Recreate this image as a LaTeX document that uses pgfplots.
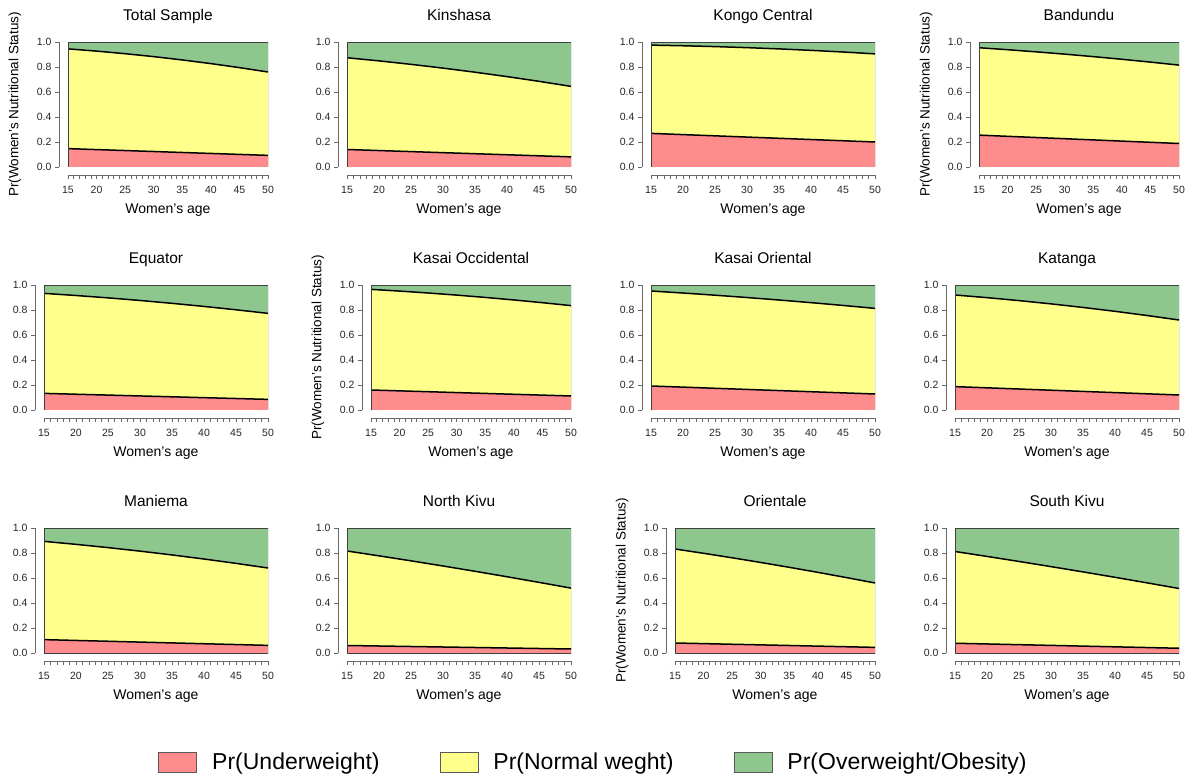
\documentclass[border=0pt]{standalone}
\usepackage{fontspec}
\setmainfont{Liberation Sans}
\usepackage{pgfplots}
\pgfplotsset{compat=1.18}
\usepackage{pgfplotstable}

\definecolor{redc}{RGB}{255,140,140}
\definecolor{yelc}{RGB}{255,255,140}
\definecolor{grnc}{RGB}{141,199,141}
\definecolor{axc}{RGB}{105,105,105}

% x = age, lo = Pr(Underweight), up = Pr(Underweight)+Pr(Normal weight)
\pgfplotstableread{
x lo up
15 0.147 0.945
20 0.1393 0.9271
25 0.1316 0.9064
30 0.1239 0.8829
35 0.1161 0.8564
40 0.1084 0.8271
45 0.1007 0.7950
50 0.093 0.760
}\tTotal
\pgfplotstableread{
x lo up
15 0.140 0.874
20 0.1316 0.8489
25 0.1231 0.8212
30 0.1147 0.7910
35 0.1063 0.7583
40 0.0979 0.7231
45 0.0894 0.6853
50 0.081 0.645
}\tKinshasa
\pgfplotstableread{
x lo up
15 0.269 0.975
20 0.2591 0.9699
25 0.2493 0.9632
30 0.2394 0.9548
35 0.2296 0.9448
40 0.2197 0.9332
45 0.2099 0.9199
50 0.200 0.905
}\tKongo
\pgfplotstableread{
x lo up
15 0.255 0.954
20 0.2454 0.9383
25 0.2359 0.9212
30 0.2263 0.9028
35 0.2167 0.8829
40 0.2071 0.8617
45 0.1976 0.8390
50 0.188 0.815
}\tBandundu
\pgfplotstableread{
x lo up
15 0.133 0.933
20 0.1261 0.9160
25 0.1193 0.8971
30 0.1124 0.8762
35 0.1056 0.8533
40 0.0987 0.8285
45 0.0919 0.8017
50 0.085 0.773
}\tEquator
\pgfplotstableread{
x lo up
15 0.160 0.965
20 0.1531 0.9513
25 0.1463 0.9360
30 0.1394 0.9191
35 0.1326 0.9005
40 0.1257 0.8803
45 0.1189 0.8585
50 0.112 0.835
}\tKasaiOcc
\pgfplotstableread{
x lo up
15 0.192 0.952
20 0.1829 0.9358
25 0.1737 0.9184
30 0.1646 0.8998
35 0.1554 0.8799
40 0.1463 0.8588
45 0.1371 0.8365
50 0.128 0.813
}\tKasaiOr
\pgfplotstableread{
x lo up
15 0.187 0.920
20 0.1774 0.8988
25 0.1679 0.8751
30 0.1583 0.8490
35 0.1487 0.8204
40 0.1391 0.7894
45 0.1296 0.7559
50 0.120 0.720
}\tKatanga
\pgfplotstableread{
x lo up
15 0.107 0.893
20 0.1004 0.8692
25 0.0939 0.8432
30 0.0873 0.8149
35 0.0807 0.7845
40 0.0741 0.7519
45 0.0676 0.7170
50 0.061 0.680
}\tManiema
\pgfplotstableread{
x lo up
15 0.060 0.816
20 0.056 0.7772
25 0.052 0.7373
30 0.048 0.6961
35 0.044 0.6536
40 0.040 0.6100
45 0.036 0.5651
50 0.032 0.519
}\tNorthKivu
\pgfplotstableread{
x lo up
15 0.080 0.832
20 0.075 0.7976
25 0.070 0.7616
30 0.065 0.7243
35 0.060 0.6854
40 0.055 0.6451
45 0.050 0.6033
50 0.045 0.560
}\tOrientale
\pgfplotstableread{
x lo up
15 0.078 0.812
20 0.0723 0.7727
25 0.0666 0.7323
30 0.0609 0.6910
35 0.0551 0.6488
40 0.0494 0.6055
45 0.0437 0.5612
50 0.038 0.516
}\tSouthKivu

\pgfplotsset{
 rpanel/.style={
  scale only axis, height=125pt,
  xmin=15, xmax=50, ymin=0, ymax=1,
  axis x line*=bottom, axis y line*=left,
  axis x line shift=8pt, axis y line shift=9pt,
  axis line style={axc, line width=0.6pt, -},
  tick style={axc, line width=0.6pt},
  xtick={15,20,...,50}, minor x tick num=4,
  ytick={0,0.2,0.4,0.6,0.8,1},
  tick align=outside, major tick length=4pt, minor tick length=4pt,
  tick label style={font=\fontsize{10.5}{12}\selectfont, text=black!85},
  xticklabel style={yshift=-4pt},
  /pgf/number format/assume math mode=true,
  yticklabel style={/pgf/number format/.cd, fixed, fixed zerofill, precision=1},
  title style={at={(axis description cs:0.5,1.124)}, anchor=base, font=\fontsize{15.5}{18}\selectfont},
  xlabel={Women's age},
  xlabel style={at={(axis description cs:0.5,-0.344)}, anchor=center, font=\fontsize{14}{16}\selectfont},
  ylabel style={at={(axis description cs:-0.265,0.5)}, anchor=center, font=\fontsize{13.5}{15}\selectfont},
  axis background/.style={fill=grnc},
  every axis plot/.append style={forget plot},
 }
}

\newcommand\panel[7]{%
\begin{axis}[rpanel, at={(#1pt,#2pt)}, anchor=south west, width=#3pt, title={#4}, #6]
\addplot[fill=yelc, draw=none] table[x=x,y=up]{#5} \closedcycle;
\addplot[fill=redc, draw=none] table[x=x,y=lo]{#5} \closedcycle;
\addplot[black, line width=1.5pt] table[x=x,y=up]{#5};
\addplot[black, line width=1.5pt] table[x=x,y=lo]{#5};
\draw[black!75, line width=0.8pt] (rel axis cs:0,0) rectangle (rel axis cs:1,1);
#7
\end{axis}}

\begin{document}
\begin{tikzpicture}
\useasboundingbox (0,0) rectangle (1193pt,779pt);
\panel{68}{612}{200}{Total Sample}{\tTotal}{ylabel={Pr(Women's Nutritional Status)}}{}
\panel{347}{612}{224}{Kinshasa}{\tKinshasa}{}{}
\panel{651}{612}{224}{Kongo Central}{\tKongo}{}{}
\panel{979}{612}{200}{Bandundu}{\tBandundu}{ylabel={Pr(Women's Nutritional Status)}}{}
\panel{44}{369}{224}{Equator}{\tEquator}{}{}
\panel{371}{369}{200}{Kasai Occidental}{\tKasaiOcc}{ylabel={Pr(Women's Nutritional Status)}}{}
\panel{651}{369}{224}{Kasai Oriental}{\tKasaiOr}{}{}
\panel{955}{369}{224}{Katanga}{\tKatanga}{}{}
\panel{44}{126}{224}{Maniema}{\tManiema}{}{}
\panel{347}{126}{224}{North Kivu}{\tNorthKivu}{}{}
\panel{675}{126}{200}{Orientale}{\tOrientale}{ylabel={Pr(Women's Nutritional Status)}}{}
\panel{955}{126}{224}{South Kivu}{\tSouthKivu}{
  legend columns=3,
  legend image code/.code={\draw[#1] (0pt,-10pt) rectangle (38pt,10pt);},
  legend style={draw=none, fill=none, at={(axis description cs:-1.614,-0.872)}, anchor=center,
    font=\fontsize{23}{27}\selectfont,
    /tikz/every odd column/.append style={column sep=13pt},
    /tikz/every even column/.append style={column sep=58pt}},
}{%
\addlegendimage{fill=redc, draw=black!65, line width=0.8pt}
\addlegendentry{Pr(Underweight)}
\addlegendimage{fill=yelc, draw=black!65, line width=0.8pt}
\addlegendentry{Pr(Normal weght)}
\addlegendimage{fill=grnc, draw=black!65, line width=0.8pt}
\addlegendentry{Pr(Overweight/Obesity)}
}
\end{tikzpicture}
\end{document}
